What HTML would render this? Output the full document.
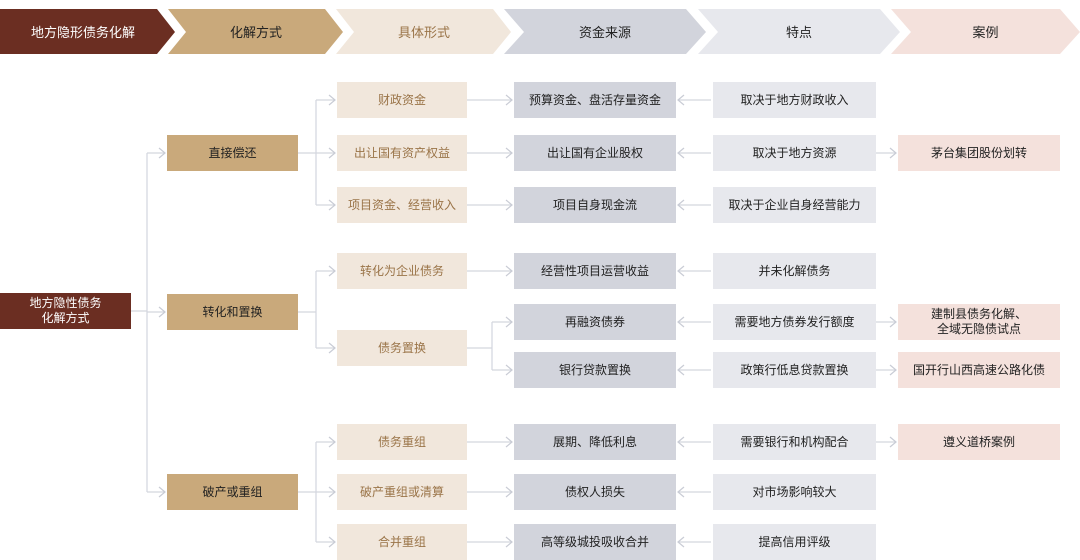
<!DOCTYPE html>
<html><head><meta charset="utf-8"><style>
body{margin:0;width:1080px;height:560px;background:#fff;position:relative;overflow:hidden;font-family:"Liberation Sans","Noto Sans CJK SC",sans-serif;}
.b{position:absolute;display:flex;align-items:center;justify-content:center;text-align:center;font-size:12px;line-height:15px;height:36px;}
.r{background:#6b2e22;color:#fff;}
.t{background:#c9a97b;color:#222;}
.c{background:#f1e7dc;color:#9a7448;}
.g{background:#d2d4dc;color:#222;}
.l{background:#e7e8ed;color:#222;}
.p{background:#f4e1dc;color:#222;}
svg{position:absolute;left:0;top:0;}
.h{position:absolute;top:9px;height:45px;display:flex;align-items:center;justify-content:center;font-size:13px;}
</style></head><body>
<svg width="1080" height="560">
<g>
<polygon points="0,9 157,9 175,32 157,54 0,54" fill="#6b2e22"/>
<polygon points="168,9 325,9 343,32 325,54 168,54 186,32" fill="#c9a97b"/>
<polygon points="336,9 493,9 511,32 493,54 336,54 354,32" fill="#f1e7dc"/>
<polygon points="504,9 686,9 706,32 686,54 504,54 524,32" fill="#d2d4dc"/>
<polygon points="698,9 880,9 900,32 880,54 698,54 718,32" fill="#e7e8ed"/>
<polygon points="891,9 1060,9 1080,32 1060,54 891,54 911,32" fill="#f4e1dc"/>
</g>
<g stroke="#d3d6de" stroke-width="1.2" fill="none">
<path d="M131,311 H147 M147,153 V492 M147,153 H165 M147,312 H165 M147,492 H165"/>
<path d="M298,153 H316 M316,100 V205 M316,100 H335 M316,153 H335 M316,205 H335"/>
<path d="M298,312 H316 M316,271 V348 M316,271 H335 M316,348 H335"/>
<path d="M298,492 H316 M316,442 V542 M316,442 H335 M316,492 H335 M316,542 H335"/>
<path d="M467,100 H512 M467,153 H512 M467,205 H512 M467,271 H512 M467,442 H512 M467,492 H512 M467,542 H512"/>
<path d="M467,348 H492 M492,322 V370 M492,322 H512 M492,370 H512"/>
<path d="M711,100 H678 M711,153 H678 M711,205 H678 M711,271 H678 M711,322 H678 M711,370 H678 M711,442 H678 M711,492 H678 M711,542 H678"/>
<path d="M876,153 H896 M876,322 H896 M876,370 H896 M876,442 H896"/>
</g>
<g stroke="#c9ccd5" stroke-width="1.2" fill="none">
<path d="M159,148 l6,5 l-6,5 M159,307 l6,5 l-6,5 M159,487 l6,5 l-6,5"/>
<path d="M329,95 l6,5 l-6,5 M329,148 l6,5 l-6,5 M329,200 l6,5 l-6,5 M329,266 l6,5 l-6,5 M329,343 l6,5 l-6,5 M329,437 l6,5 l-6,5 M329,487 l6,5 l-6,5 M329,537 l6,5 l-6,5"/>
<path d="M506,95 l6,5 l-6,5 M506,148 l6,5 l-6,5 M506,200 l6,5 l-6,5 M506,266 l6,5 l-6,5 M506,317 l6,5 l-6,5 M506,365 l6,5 l-6,5 M506,437 l6,5 l-6,5 M506,487 l6,5 l-6,5 M506,537 l6,5 l-6,5"/>
<path d="M684,95 l-6,5 l6,5 M684,148 l-6,5 l6,5 M684,200 l-6,5 l6,5 M684,266 l-6,5 l6,5 M684,317 l-6,5 l6,5 M684,365 l-6,5 l6,5 M684,437 l-6,5 l6,5 M684,487 l-6,5 l6,5 M684,537 l-6,5 l6,5"/>
<path d="M890,148 l6,5 l-6,5 M890,317 l6,5 l-6,5 M890,365 l6,5 l-6,5 M890,437 l6,5 l-6,5"/>
</g>
</svg>
<div class="h" style="left:0;width:166px;color:#fff">地方隐形债务化解</div>
<div class="h" style="left:176px;width:160px;color:#222">化解方式</div>
<div class="h" style="left:344px;width:160px;color:#9a7448">具体形式</div>
<div class="h" style="left:514px;width:182px;color:#222">资金来源</div>
<div class="h" style="left:708px;width:182px;color:#222">特点</div>
<div class="h" style="left:901px;width:169px;color:#222">案例</div>

<div class="b r" style="left:0;top:293px;width:131px">地方隐性债务<br>化解方式</div>
<div class="b t" style="left:167px;top:135px;width:131px">直接偿还</div>
<div class="b t" style="left:167px;top:294px;width:131px">转化和置换</div>
<div class="b t" style="left:167px;top:474px;width:131px">破产或重组</div>

<div class="b c" style="left:337px;top:82px;width:130px">财政资金</div>
<div class="b c" style="left:337px;top:135px;width:130px">出让国有资产权益</div>
<div class="b c" style="left:337px;top:187px;width:130px">项目资金、经营收入</div>
<div class="b c" style="left:337px;top:253px;width:130px">转化为企业债务</div>
<div class="b c" style="left:337px;top:330px;width:130px">债务置换</div>
<div class="b c" style="left:337px;top:424px;width:130px">债务重组</div>
<div class="b c" style="left:337px;top:474px;width:130px">破产重组或清算</div>
<div class="b c" style="left:337px;top:524px;width:130px">合并重组</div>

<div class="b g" style="left:514px;top:82px;width:162px">预算资金、盘活存量资金</div>
<div class="b g" style="left:514px;top:135px;width:162px">出让国有企业股权</div>
<div class="b g" style="left:514px;top:187px;width:162px">项目自身现金流</div>
<div class="b g" style="left:514px;top:253px;width:162px">经营性项目运营收益</div>
<div class="b g" style="left:514px;top:304px;width:162px">再融资债券</div>
<div class="b g" style="left:514px;top:352px;width:162px">银行贷款置换</div>
<div class="b g" style="left:514px;top:424px;width:162px">展期、降低利息</div>
<div class="b g" style="left:514px;top:474px;width:162px">债权人损失</div>
<div class="b g" style="left:514px;top:524px;width:162px">高等级城投吸收合并</div>

<div class="b l" style="left:713px;top:82px;width:163px">取决于地方财政收入</div>
<div class="b l" style="left:713px;top:135px;width:163px">取决于地方资源</div>
<div class="b l" style="left:713px;top:187px;width:163px">取决于企业自身经营能力</div>
<div class="b l" style="left:713px;top:253px;width:163px">并未化解债务</div>
<div class="b l" style="left:713px;top:304px;width:163px">需要地方债券发行额度</div>
<div class="b l" style="left:713px;top:352px;width:163px">政策行低息贷款置换</div>
<div class="b l" style="left:713px;top:424px;width:163px">需要银行和机构配合</div>
<div class="b l" style="left:713px;top:474px;width:163px">对市场影响较大</div>
<div class="b l" style="left:713px;top:524px;width:163px">提高信用评级</div>

<div class="b p" style="left:898px;top:135px;width:162px">茅台集团股份划转</div>
<div class="b p" style="left:898px;top:304px;width:162px">建制县债务化解、<br>全域无隐债试点</div>
<div class="b p" style="left:898px;top:352px;width:162px">国开行山西高速公路化债</div>
<div class="b p" style="left:898px;top:424px;width:162px">遵义道桥案例</div>
</body></html>
